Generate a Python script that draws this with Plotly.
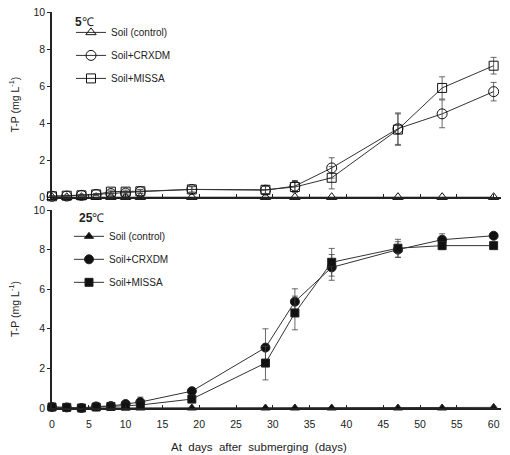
import plotly.graph_objects as go

days = [0, 2, 4, 6, 8, 10, 12, 19, 29, 33, 38, 47, 53, 60]

# 5 °C panel
ctrl_5 = [0, 0, 0, 0, 0, 0, 0, 0, 0, 0, 0, 0, 0, 0]
crx_5 = [0.05, 0.06, 0.1, 0.15, 0.2, 0.22, 0.3, 0.42, 0.38, 0.6, 1.58, 3.7, 4.5, 5.7]
crx_5_err = [0.02, 0.03, 0.05, 0.05, 0.08, 0.08, 0.1, 0.15, 0.2, 0.3, 0.55, 0.85, 0.75, 0.5]
mis_5 = [0.05, 0.08, 0.1, 0.15, 0.3, 0.3, 0.32, 0.42, 0.4, 0.55, 1.05, 3.65, 5.9, 7.1]
mis_5_err = [0.02, 0.03, 0.05, 0.05, 0.08, 0.08, 0.1, 0.15, 0.2, 0.3, 0.6, 0.85, 0.6, 0.45]

# 25 °C panel
ctrl_25 = [0, 0, 0, 0, 0, 0, 0, 0, 0, 0, 0, 0, 0, 0.03]
crx_25 = [0.05, 0.03, 0.0, 0.08, 0.1, 0.2, 0.3, 0.85, 3.05, 5.37, 7.1, 8.0, 8.5, 8.7]
crx_25_err = [0.02, 0.02, 0.02, 0.05, 0.05, 0.08, 0.25, 0.1, 0.95, 0.65, 0.65, 0.4, 0.3, 0.05]
mis_25 = [0.05, 0.03, 0.0, 0.05, 0.08, 0.1, 0.15, 0.45, 2.27, 4.8, 7.36, 8.07, 8.2, 8.2]
mis_25_err = [0.02, 0.02, 0.02, 0.03, 0.05, 0.05, 0.1, 0.1, 0.85, 0.85, 0.7, 0.45, 0.2, 0.05]

labels = ["Soil (control)", "Soil+CRXDM", "Soil+MISSA"]

FONT = "Liberation Sans, Arial, sans-serif"
LINE = "#333333"
TXT = "#222222"

fig = go.Figure()

def add(x, y, err, name, symbol, xa, ya, legend, size):
    kw = {}
    if err is not None:
        kw["error_y"] = dict(type="data", array=err, visible=True, color="#444444",
                             thickness=0.8, width=3)
    fig.add_trace(go.Scatter(
        x=x, y=y, name=name, mode="lines+markers", xaxis=xa, yaxis=ya,
        line=dict(color=LINE, width=1),
        marker=dict(symbol=symbol, size=size, color="#111111",
                    line=dict(color="#222222", width=1)),
        legend=legend, legendgroup=legend + name, cliponaxis=False, **kw))

add(days, ctrl_5, None, labels[0], "triangle-up-open", "x", "y", "legend", 9)
add(days, crx_5, crx_5_err, labels[1], "circle-open", "x", "y", "legend", 10)
add(days, mis_5, mis_5_err, labels[2], "square-open", "x", "y", "legend", 9)

add(days, ctrl_25, None, labels[0], "triangle-up", "x2", "y2", "legend2", 8)
add(days, crx_25, crx_25_err, labels[1], "circle", "x2", "y2", "legend2", 9)
add(days, mis_25, mis_25_err, labels[2], "square", "x2", "y2", "legend2", 8)

W, H = 510, 455
ml, mr, mt, mb = 52, 9, 6, 47
ph = H - mt - mb
pw = W - ml - mr

def fy(py):
    return (H - mb - py) / ph

def fx(px):
    return (px - ml) / pw

axis_common = dict(showline=True, linecolor="#222222", linewidth=1.5, showgrid=False,
                   zeroline=False, tickfont=dict(family=FONT, size=10.5, color=TXT),
                   ticklen=3, tickcolor="#222222")

ytitle = dict(text="T-P (mg L<sup>-1</sup>)", font=dict(family=FONT, size=10.5, color=TXT), standoff=12)

xticks = list(range(0, 61, 5))
fig.update_layout(
    width=W, height=H, margin=dict(l=ml, r=mr, t=mt, b=mb),
    plot_bgcolor="white", paper_bgcolor="white", showlegend=True,
    xaxis=dict(domain=[0, 1], range=[0, 61], anchor="y", tickvals=xticks,
               showticklabels=False, ticks="inside", **axis_common),
    yaxis=dict(domain=[fy(194), fy(6)], range=[0, 10], anchor="x", tickvals=[0, 2, 4, 6, 8, 10],
               ticks="outside", title=ytitle, **axis_common),
    xaxis2=dict(domain=[0, 1], range=[0, 61], anchor="y2", tickvals=xticks,
                ticks="inside", ticklabelstandoff=6, **axis_common),
    yaxis2=dict(domain=[0, fy(207)], range=[0, 10], anchor="x2", tickvals=[0, 2, 4, 6, 8, 10],
                ticks="outside", title=ytitle, **axis_common),
    legend=dict(x=fx(71), y=fy(12), xanchor="left", yanchor="top",
                bgcolor="rgba(0,0,0,0)", font=dict(family=FONT, size=10, color=TXT),
                tracegroupgap=4, itemwidth=30),
    legend2=dict(x=fx(69), y=fy(219), xanchor="left", yanchor="top",
                 bgcolor="rgba(0,0,0,0)", font=dict(family=FONT, size=10, color=TXT),
                 tracegroupgap=4, itemwidth=30),
    annotations=[
        dict(text="<b>5</b>℃", x=fx(73), y=fy(7), xref="paper", yref="paper",
             xanchor="left", yanchor="top", showarrow=False,
             font=dict(family=FONT, size=12, color=TXT)),
        dict(text="<b>25</b>℃", x=fx(77), y=fy(206), xref="paper", yref="paper",
             xanchor="left", yanchor="top", showarrow=False,
             font=dict(family=FONT, size=12, color=TXT)),
        dict(text="At  days  after  submerging  (days)", x=fx(259), y=fy(448),
             xref="paper", yref="paper", xanchor="center", yanchor="middle", showarrow=False,
             font=dict(family=FONT, size=11.5, color=TXT)),
    ],
)

fig.write_html("out.html")
